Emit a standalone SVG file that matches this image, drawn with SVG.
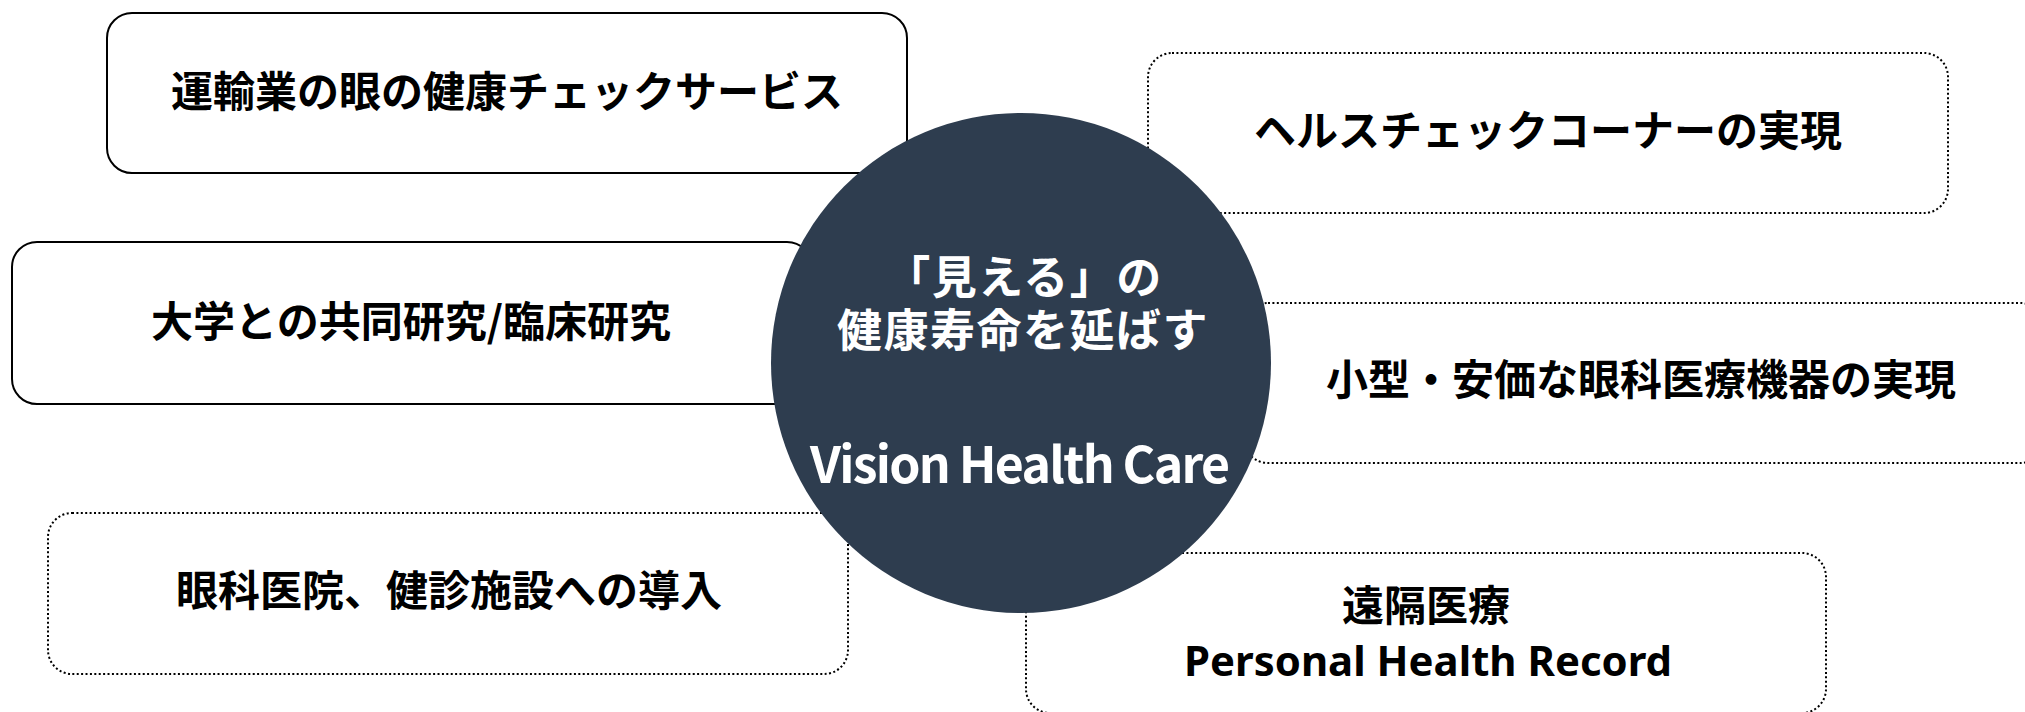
<svg xmlns="http://www.w3.org/2000/svg" width="2025" height="712" viewBox="0 0 2025 712">
<style>
.box{fill:#fff;stroke:#000;stroke-width:2}
.dot{stroke-dasharray:2 2.4}
.t{font-family:"Noto Sans CJK JP","Noto Sans",sans-serif;font-weight:700;font-size:42px;fill:#000;text-anchor:middle}
.e{font-family:"Noto Sans","Noto Sans CJK JP",sans-serif;font-weight:700;font-size:42px;text-anchor:middle}
.c{font-family:"Noto Sans CJK JP","Noto Sans",sans-serif;font-weight:600;font-size:45px;fill:#fff;text-anchor:middle;letter-spacing:1.5px}
.v{font-family:"Noto Sans CJK JP","Noto Sans",sans-serif;font-weight:700;font-size:50px;fill:#fff;text-anchor:middle}
</style>
<g id="node-transport">
<rect class="box" x="107" y="13" width="800" height="160" rx="25"/>
<text class="t" x="507" y="107">運輸業の眼の健康チェックサービス</text>
</g>
<g id="node-healthcheck">
<rect class="box dot" x="1148" y="53" width="800" height="160" rx="24"/>
<text class="t" x="1548" y="146">ヘルスチェックコーナーの実現</text>
</g>
<g id="node-research">
<rect class="box" x="12" y="242" width="800" height="162" rx="25"/>
<text class="t" x="411" y="337">大学との共同研究/臨床研究</text>
</g>
<g id="node-device">
<rect class="box dot" x="1244" y="303" width="800" height="160" rx="24"/>
<text class="t" x="1641" y="395">小型・安価な眼科医療機器の実現</text>
</g>
<g id="node-clinic">
<rect class="box dot" x="48" y="513" width="800" height="161" rx="24"/>
<text class="t" x="449" y="606">眼科医院、健診施設への導入</text>
</g>
<g id="node-remote">
<rect class="box dot" x="1026" y="553" width="800" height="160" rx="24"/>
<text class="t" x="1426" y="621">遠隔医療</text>
<text class="e" x="1428" y="676" textLength="488" lengthAdjust="spacingAndGlyphs">Personal Health Record</text>
</g>
<g id="connectors"></g>
<g id="node-center">
<circle cx="1021" cy="363" r="250" fill="#2E3D4F"/>
<text class="c" x="1024" y="294">「見える」の</text>
<text class="c" x="1023" y="347">健康寿命を延ばす</text>
<text class="v" x="1020" y="483" textLength="420" lengthAdjust="spacing">Vision Health Care</text>
</g>
</svg>
